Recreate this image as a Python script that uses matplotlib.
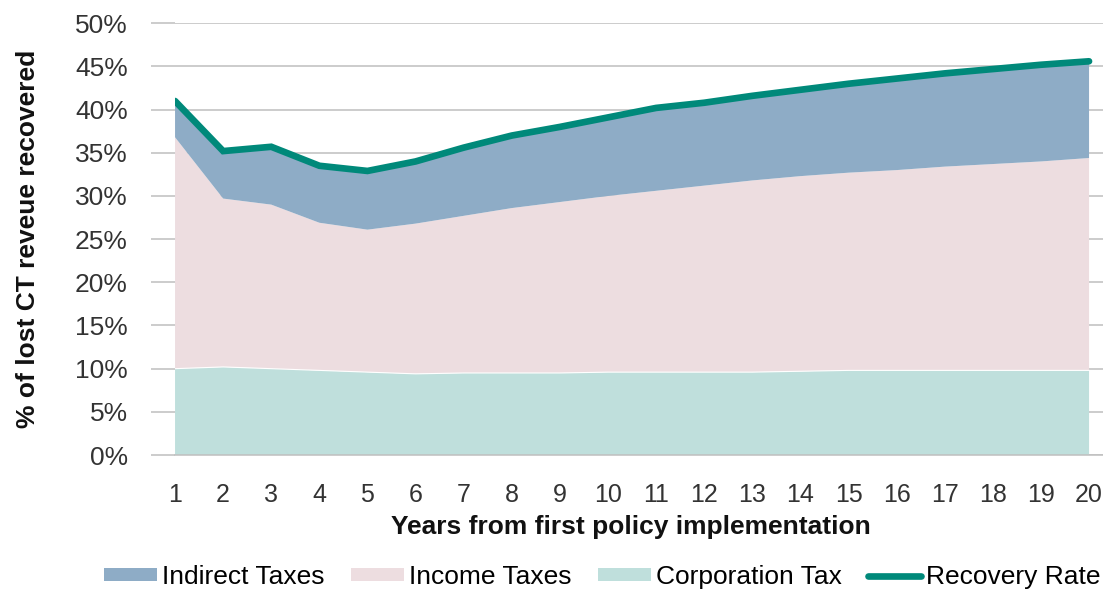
import numpy as np
import matplotlib.pyplot as plt

plt.rcParams['font.family'] = ['Liberation Sans', 'DejaVu Sans']

# Share of lost CT revenue recovered (%), by year after the policy starts
years = np.arange(1, 21)
corporation_tax = np.array([10.0, 10.2, 10.0, 9.8, 9.6, 9.4, 9.5, 9.5, 9.5, 9.6,
                            9.6, 9.6, 9.6, 9.7, 9.8, 9.8, 9.8, 9.8, 9.8, 9.8])
income_taxes = np.array([26.8, 19.5, 19.0, 17.1, 16.5, 17.4, 18.2, 19.1, 19.8, 20.4,
                         21.0, 21.6, 22.2, 22.6, 22.9, 23.2, 23.6, 23.9, 24.2, 24.6])
indirect_taxes = np.array([4.2, 5.5, 6.7, 6.6, 6.8, 7.2, 7.9, 8.4, 8.7, 9.1,
                           9.6, 9.6, 9.8, 10.0, 10.3, 10.6, 10.8, 11.0, 11.2, 11.2])
recovery_rate = corporation_tax + income_taxes + indirect_taxes

c_indirect = '#8EACC6'
c_income = '#EDDDE0'
c_corp = '#BFDFDC'
c_line = '#00897A'

fig = plt.figure(figsize=(11.03, 5.90), dpi=100)
ax = fig.add_axes([0.1587, 0.2288, 0.8413, 0.7317])

ax.stackplot(years, corporation_tax, income_taxes, indirect_taxes,
             colors=[c_corp, c_income, c_indirect],
             labels=['Corporation Tax', 'Income Taxes', 'Indirect Taxes'],
             zorder=2)
ax.plot(years, corporation_tax, color='white', lw=0.8, zorder=3)
ax.plot(years, recovery_rate, color=c_line, lw=4.8, solid_capstyle='round',
        solid_joinstyle='miter', label='Recovery Rate', zorder=4)

ax.set_xlim(1, 20.29)
ax.set_ylim(0, 50)
ax.set_xticks(years)
ax.set_yticks(np.arange(0, 51, 5))
ax.set_yticklabels([f'{v}%' for v in range(0, 51, 5)])

ax.grid(axis='y', color='#BFBFBF', lw=1.1, zorder=0)
ax.set_axisbelow(True)
for side in ['top', 'right', 'left']:
    ax.spines[side].set_visible(False)
ax.spines['bottom'].set_color('#BFBFBF')
ax.spines['bottom'].set_linewidth(1.1)

ax.tick_params(axis='y', length=17, width=1.1, color='#BFBFBF', pad=17,
               labelsize=19, labelcolor='#333333')
ax.tick_params(axis='x', length=0, pad=20, labelsize=18, labelcolor='#333333')

ax.set_xlabel('Years from first policy implementation', fontsize=19,
              fontweight='bold', color='#111111')
ax.set_ylabel('% of lost CT reveue recovered', fontsize=19,
              fontweight='bold', color='#111111')
ax.xaxis.set_label_coords(0.491, -0.138)
ax.yaxis.set_label_coords(-0.146, 0.5)

handles, labels = ax.get_legend_handles_labels()
order = [2, 1, 0, 3]
ax.legend([handles[i] for i in order], [labels[i] for i in order],
          loc='center', bbox_to_anchor=(0.546, 0.022), bbox_transform=fig.transFigure,
          ncol=4, frameon=False, fontsize=19, handlelength=2.0, handleheight=0.4,
          handletextpad=0.2, columnspacing=1.0)

fig.savefig('out.png', dpi=100)
